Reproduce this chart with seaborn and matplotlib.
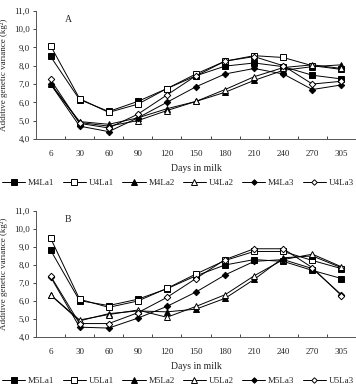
import numpy as np
import pandas as pd
import matplotlib
matplotlib.use('Agg')
import matplotlib.pyplot as plt
import seaborn as sns

# Ngày cho sữa
days = ['6', '30', '60', '90', '120', '150', '180', '210', '240', '270', '305']

# Panel A
names_a = ['M4La1', 'U4La1', 'M4La2', 'U4La2', 'M4La3', 'U4La3']
m4la1 = [8.51, 6.15, 5.50, 6.05, 6.75, 7.45, 7.98, 8.15, 7.95, 7.48, 7.28]
u4la1 = [9.10, 6.20, 5.45, 5.90, 6.75, 7.55, 8.25, 8.55, 8.45, 8.00, 7.80]
m4la2 = [7.00, 4.95, 4.80, 5.15, 5.65, 6.05, 6.55, 7.20, 7.75, 7.95, 8.05]
u4la2 = [7.05, 4.90, 4.70, 5.00, 5.55, 6.05, 6.70, 7.40, 7.90, 8.05, 7.85]
m4la3 = [7.00, 4.70, 4.40, 5.15, 6.00, 6.85, 7.55, 7.85, 7.55, 6.70, 6.95]
u4la3 = [7.25, 4.85, 4.60, 5.35, 6.40, 7.45, 8.25, 8.50, 8.00, 7.00, 7.15]

# Panel B
names_b = ['M5La1', 'U5La1', 'M5La2', 'U5La2', 'M5La3', 'U5La3']
m5la1 = [8.83, 6.02, 5.75, 6.10, 6.68, 7.40, 8.00, 8.30, 8.20, 7.70, 7.25]
u5la1 = [9.50, 6.10, 5.65, 6.00, 6.70, 7.50, 8.25, 8.75, 8.75, 8.25, 7.80]
m5la2 = [6.33, 4.90, 5.30, 5.45, 5.40, 5.55, 6.15, 7.20, 8.40, 8.50, 7.85]
u5la2 = [6.35, 4.95, 5.25, 5.50, 5.10, 5.70, 6.35, 7.40, 8.30, 8.60, 7.90]
m5la3 = [7.35, 4.55, 4.50, 5.05, 5.70, 6.50, 7.45, 8.20, 8.30, 7.80, 6.35]
u5la3 = [7.40, 4.75, 4.75, 5.35, 6.20, 7.25, 8.30, 8.90, 8.90, 7.85, 6.30]

ytick_vals = [4, 5, 6, 7, 8, 9, 10, 11]
ytick_labels = ['4,0', '5,0', '6,0', '7,0', '8,0', '9,0', '10,0', '11,0']

styles = [('s', 'black', 4.8), ('s', 'white', 4.8), ('^', 'black', 4.8),
          ('^', 'white', 4.8), ('D', 'black', 3.3), ('D', 'white', 3.3)]

sns.set_style('white')
plt.rcParams['font.family'] = ['Liberation Serif', 'DejaVu Serif']


def draw_panel(fig, rect, letter, names, series, legend_y):
    ax = fig.add_axes(rect)
    x = np.arange(len(days))
    for name, vals, (mk, fc, ms) in zip(names, series, styles):
        sns.lineplot(x=x, y=vals, ax=ax, color='black', linewidth=0.7,
                     marker=mk, markersize=ms, markerfacecolor=fc,
                     markeredgecolor='black', markeredgewidth=0.7, label=name)
    ax.set_xlim(-0.5, len(days) - 0.5)
    ax.set_ylim(4, 11)
    ax.set_xticks(x)
    ax.set_xticklabels(days, fontsize=6.5)
    ax.set_xticks(np.arange(0.5, len(days) - 0.5, 1), minor=True)
    ax.tick_params(axis='x', which='major', length=0, pad=8)
    ax.tick_params(axis='x', which='minor', direction='in', length=2.5,
                   width=0.6, bottom=True)
    ax.set_yticks(ytick_vals)
    ax.set_yticklabels(ytick_labels, fontsize=6.5)
    ax.tick_params(axis='y', direction='out', length=2.5, width=0.6,
                   left=True, pad=2)
    for s in ['top', 'right']:
        ax.spines[s].set_visible(False)
    for s in ['left', 'bottom']:
        ax.spines[s].set_color('#555555')
        ax.spines[s].set_linewidth(0.7)
    ax.set_xlabel('Days in milk', fontsize=7, labelpad=4)
    ax.set_ylabel('Additive genetic variance (kg²)', fontsize=6.5, labelpad=4)
    ax.text(0.09, 0.97, letter, transform=ax.transAxes, fontsize=7,
            va='top', ha='left')
    handles, labels = ax.get_legend_handles_labels()
    ax.get_legend().remove()
    fig.legend(handles, labels, loc='center', ncol=6,
               bbox_to_anchor=(0.5, legend_y), frameon=False, fontsize=6.5,
               handlelength=2.6, columnspacing=0.9, handletextpad=0.3,
               markerscale=0.85)
    return ax


fig = plt.figure(figsize=(3.56, 3.87), dpi=100)
draw_panel(fig, [0.101, 0.641, 0.899, 0.331], 'A', names_a,
           [m4la1, u4la1, m4la2, u4la2, m4la3, u4la3], 1 - 183 / 387)
draw_panel(fig, [0.101, 0.129, 0.899, 0.326], 'B', names_b,
           [m5la1, u5la1, m5la2, u5la2, m5la3, u5la3], 1 - 381 / 387)
plt.savefig('out.png', dpi=100)
